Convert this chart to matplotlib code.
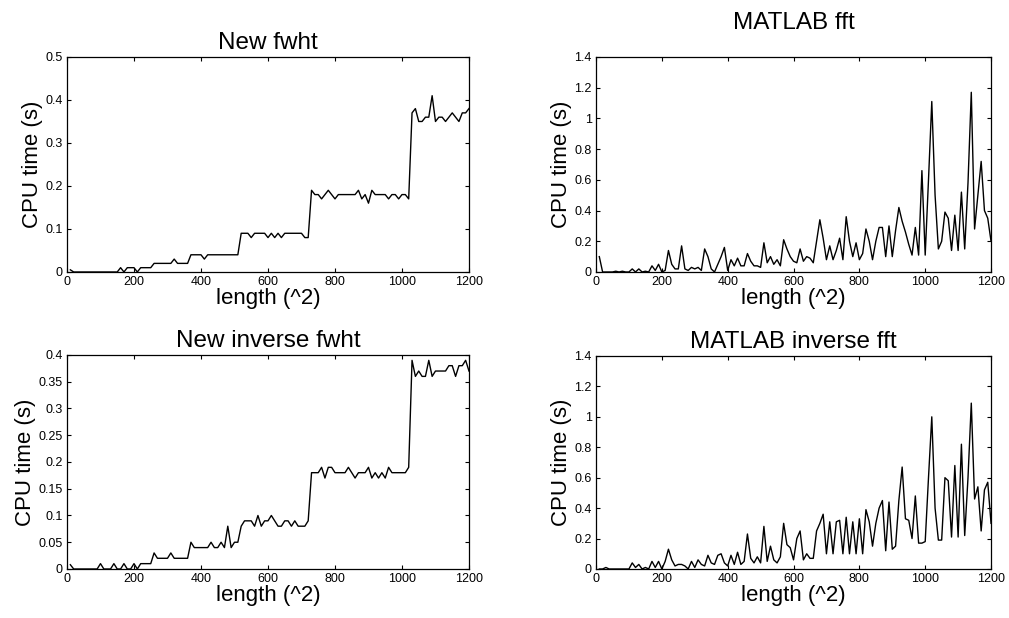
import numpy as np
import matplotlib
matplotlib.use("Agg")
import matplotlib.pyplot as plt
from matplotlib.ticker import FuncFormatter

plt.rcParams['font.family'] = ['Liberation Sans', 'DejaVu Sans']

# problem lengths (squared), one sample every 10
length = np.arange(10, 1201, 10)

fwht = [0.005, 0, 0, 0, 0, 0, 0, 0, 0, 0, 0, 0, 0, 0, 0,
        0.01, 0, 0.01, 0.01, 0.01, 0, 0.01, 0.01, 0.01, 0.01,
        0.02, 0.02, 0.02, 0.02, 0.02, 0.02, 0.03, 0.02, 0.02, 0.02,
        0.02, 0.04, 0.04, 0.04, 0.04, 0.03, 0.04, 0.04, 0.04, 0.04,
        0.04, 0.04, 0.04, 0.04, 0.04, 0.04, 0.09, 0.09, 0.09, 0.08,
        0.09, 0.09, 0.09, 0.09, 0.08, 0.09, 0.08, 0.09, 0.08, 0.09,
        0.09, 0.09, 0.09, 0.09, 0.09, 0.08, 0.08, 0.19, 0.18, 0.18,
        0.17, 0.18, 0.19, 0.18, 0.17, 0.18, 0.18, 0.18, 0.18, 0.18,
        0.18, 0.19, 0.17, 0.18, 0.16, 0.19, 0.18, 0.18, 0.18, 0.18,
        0.17, 0.18, 0.18, 0.17, 0.18, 0.18, 0.17, 0.37, 0.38, 0.35,
        0.35, 0.36, 0.36, 0.41, 0.35, 0.36, 0.36, 0.35, 0.36, 0.37,
        0.36, 0.35, 0.37, 0.37, 0.38]

ifwht = [0.008, 0, 0, 0, 0, 0, 0, 0, 0, 0.01, 0, 0, 0, 0.01, 0,
         0, 0.01, 0, 0, 0.01, 0, 0.01, 0.01, 0.01, 0.01,
         0.03, 0.02, 0.02, 0.02, 0.02, 0.03, 0.02, 0.02, 0.02, 0.02,
         0.02, 0.05, 0.04, 0.04, 0.04, 0.04, 0.04, 0.05, 0.04, 0.04,
         0.05, 0.04, 0.08, 0.04, 0.05, 0.05, 0.08, 0.09, 0.09, 0.09,
         0.08, 0.10, 0.08, 0.09, 0.09, 0.10, 0.09, 0.08, 0.08, 0.09,
         0.09, 0.08, 0.09, 0.08, 0.08, 0.08, 0.09, 0.18, 0.18, 0.18,
         0.19, 0.17, 0.19, 0.19, 0.18, 0.18, 0.18, 0.18, 0.19, 0.18,
         0.17, 0.18, 0.18, 0.18, 0.19, 0.17, 0.18, 0.17, 0.18, 0.17,
         0.19, 0.18, 0.18, 0.18, 0.18, 0.18, 0.19, 0.39, 0.36, 0.37,
         0.36, 0.36, 0.39, 0.36, 0.37, 0.37, 0.37, 0.37, 0.38, 0.38,
         0.36, 0.38, 0.38, 0.39, 0.37]

fft = [0.10, 0, 0, 0, 0, 0.005, 0, 0.005, 0, 0, 0.02, 0, 0.02, 0, 0.005,
       0, 0.04, 0.01, 0.05, 0, 0.01, 0.14, 0.05, 0.02, 0.02,
       0.17, 0.02, 0.01, 0.03, 0.02, 0.03, 0.01, 0.15, 0.10, 0.02,
       0.0, 0.05, 0.10, 0.16, 0.01, 0.08, 0.04, 0.09, 0.04, 0.04,
       0.12, 0.07, 0.04, 0.04, 0.03, 0.19, 0.06, 0.10, 0.05, 0.08,
       0.04, 0.21, 0.15, 0.10, 0.07, 0.06, 0.15, 0.07, 0.10, 0.09,
       0.06, 0.20, 0.34, 0.22, 0.08, 0.17, 0.08, 0.14, 0.22, 0.08,
       0.36, 0.20, 0.10, 0.19, 0.08, 0.12, 0.28, 0.20, 0.08, 0.20,
       0.29, 0.29, 0.10, 0.30, 0.10, 0.27, 0.42, 0.33, 0.26, 0.18,
       0.11, 0.29, 0.11, 0.66, 0.11, 0.60, 1.11, 0.50, 0.15, 0.20,
       0.39, 0.35, 0.14, 0.37, 0.14, 0.52, 0.15, 0.58, 1.17, 0.28,
       0.50, 0.72, 0.40, 0.35, 0.20]

ifft = [0, 0, 0.01, 0, 0, 0, 0, 0, 0, 0, 0.04, 0.01, 0.03, 0, 0.01,
        0, 0.05, 0.01, 0.05, 0, 0.05, 0.13, 0.06, 0.02, 0.03,
        0.03, 0.02, 0.0, 0.05, 0.01, 0.06, 0.03, 0.02, 0.09, 0.04,
        0.03, 0.09, 0.10, 0.04, 0.02, 0.09, 0.03, 0.11, 0.03, 0.05,
        0.23, 0.07, 0.04, 0.08, 0.04, 0.28, 0.05, 0.15, 0.06, 0.04,
        0.08, 0.30, 0.16, 0.14, 0.06, 0.20, 0.25, 0.06, 0.10, 0.07,
        0.07, 0.25, 0.30, 0.36, 0.10, 0.31, 0.10, 0.31, 0.32, 0.10,
        0.34, 0.10, 0.31, 0.10, 0.33, 0.10, 0.39, 0.31, 0.15, 0.30,
        0.40, 0.45, 0.12, 0.44, 0.13, 0.15, 0.45, 0.67, 0.33, 0.32,
        0.20, 0.48, 0.17, 0.17, 0.18, 0.60, 1.00, 0.40, 0.19, 0.19,
        0.60, 0.58, 0.21, 0.68, 0.21, 0.82, 0.22, 0.60, 1.09, 0.46,
        0.54, 0.25, 0.52, 0.57, 0.30]

panels = [
    # (data, title, ylim, ytick step, axes rect, title pad)
    (fwht, 'New fwht', 0.5, 0.1, [0.0664, 0.5599, 0.3984, 0.3479], 6),
    (fft, 'MATLAB fft', 1.4, 0.2, [0.5907, 0.5599, 0.3915, 0.3479], 20),
    (ifwht, 'New inverse fwht', 0.4, 0.05, [0.0664, 0.0793, 0.3984, 0.3463], 6),
    (ifft, 'MATLAB inverse fft', 1.4, 0.2, [0.5907, 0.0793, 0.3915, 0.3447], 6),
]

fig = plt.figure(figsize=(10.09, 6.18), dpi=100)

for data, title, ymax, step, rect, pad in panels:
    ax = fig.add_axes(rect)
    ax.plot(length, data, color='black', linewidth=1.0)
    ax.set_xlim(0, 1200)
    ax.set_ylim(0, ymax)
    ax.set_xticks(np.arange(0, 1201, 200))
    ax.set_yticks(np.arange(0, ymax + step / 2, step))
    ax.yaxis.set_major_formatter(FuncFormatter(lambda v, p: '%g' % round(v, 3)))
    ax.tick_params(direction='in', top=True, right=True, length=3,
                   width=0.8, labelsize=9, pad=3)
    for s in ax.spines.values():
        s.set_linewidth(0.9)
    ax.set_title(title, fontsize=17.5, pad=pad)
    ax.set_xlabel('length (^2)', fontsize=16, labelpad=0)
    ax.set_ylabel('CPU time (s)', fontsize=16, labelpad=2)

fig.savefig('out.png', dpi=100)
